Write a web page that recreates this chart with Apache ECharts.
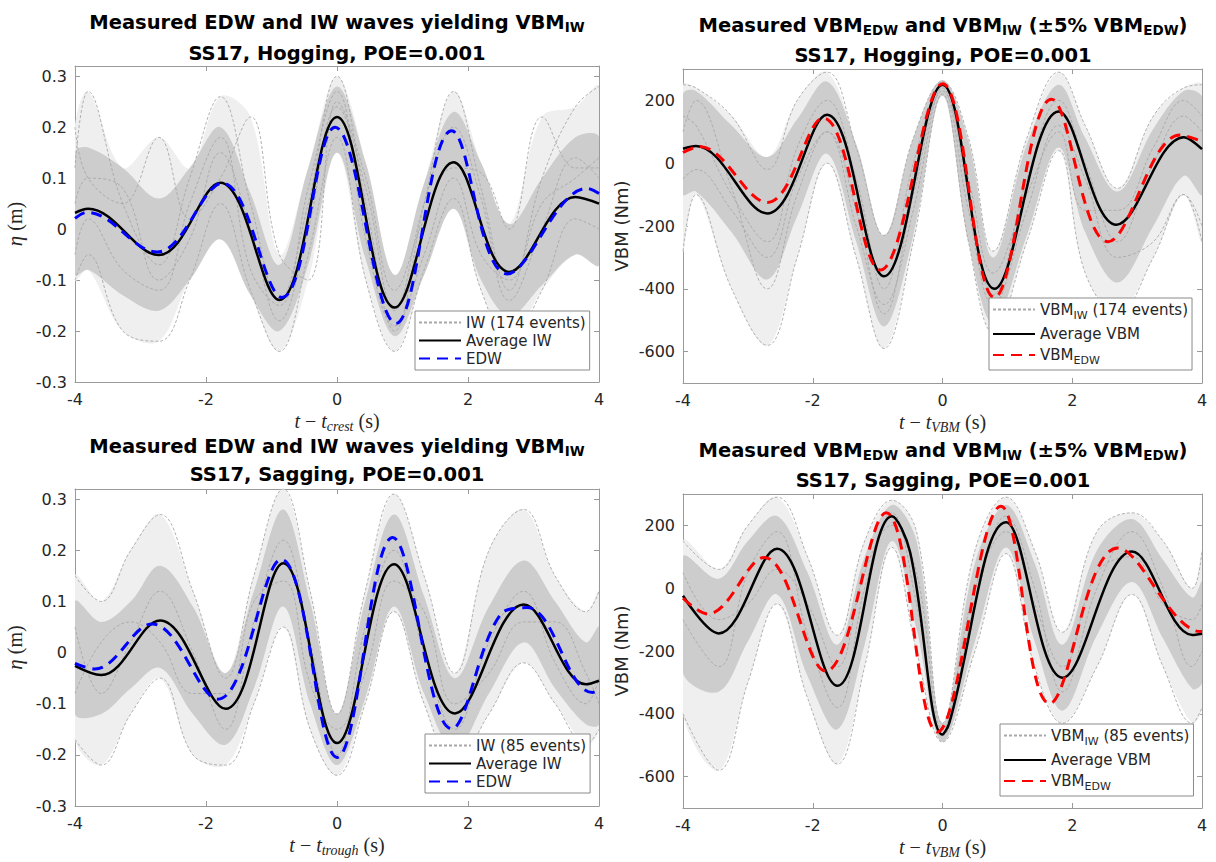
<!DOCTYPE html>
<html><head><meta charset="utf-8">
<script src="https://cdn.jsdelivr.net/npm/echarts@6/dist/echarts.min.js"></script>
<style>html,body{margin:0;padding:0;background:#fff}#c{width:1216px;height:862px}</style>
</head><body><div id="c"></div>
<script>
// ---------------- tick labels ----------------
const xTicks = [-4, -2, 0, 2, 4];
const etaTicks = [-0.3, -0.2, -0.1, 0, 0.1, 0.2, 0.3];
const vbmTicks = [-600, -400, -200, 0, 200];

// ---------------- Top-left: wave elevation, hogging ----------------
const tlAvgT = [-4, -3.8, -2.72, -1.78, -0.88, 0, 0.88, 1.78, 2.63, 3.64, 4];
const tlAvgV = [0.032, 0.04, -0.051, 0.091, -0.139, 0.22, -0.154, 0.131, -0.084, 0.063, 0.05];
const tlEdwT = [-4, -3.82, -2.75, -1.75, -0.84, -0.03, 0.9, 1.75, 2.6, 3.82, 4];
const tlEdwV = [0.021, 0.033, -0.045, 0.09, -0.134, 0.2, -0.185, 0.193, -0.088, 0.08, 0.07];
const tlBandT = [-4, -3.8, -3.27, -2.72, -2.25, -1.78, -1.32, -0.88, -0.44, 0, 0.44, 0.88, 1.33, 1.78, 2.2, 2.63, 3.13, 3.64, 4];
const tlBandLo = [-0.09, -0.08, -0.13, -0.16, -0.1, -0.02, -0.13, -0.2, -0.07, 0.15, -0.06, -0.21, -0.09, 0.04, -0.1, -0.17, -0.11, -0.05, -0.07];
const tlBandHi = [0.15, 0.16, 0.12, 0.06, 0.12, 0.2, 0.07, -0.07, 0.12, 0.28, 0.13, -0.09, 0.09, 0.23, 0.13, 0.01, 0.1, 0.18, 0.18];
const tlEv1 = [0.12, 0.27, 0.05, -0.07, 0.1, 0.26, 0.05, -0.14, 0.05, 0.3, 0.05, -0.2, 0.05, 0.27, 0.08, -0.12, 0.1, 0.24, 0.28];
const tlEv2 = [-0.1, -0.05, -0.2, -0.22, -0.1, 0.05, -0.12, -0.24, -0.05, 0.18, -0.1, -0.24, -0.08, 0.06, -0.12, -0.22, -0.12, 0.02, 0.0];
const tlEv3 = [0.2, 0.1, 0.05, 0.18, 0.02, 0.1, 0.22, -0.05, -0.1, 0.25, 0.1, -0.12, 0.02, 0.12, 0.11, 0.0, 0.22, 0.12, 0.12];
const tlEv4 = [0.05, 0.1, 0.08, -0.1, -0.02, 0.15, 0.0, -0.18, 0.0, 0.24, 0.08, -0.16, 0.05, 0.2, 0.06, -0.14, 0.0, 0.14, 0.1];
const tlEv5 = [-0.05, 0.02, -0.08, -0.12, 0.05, 0.18, -0.08, -0.15, 0.08, 0.27, -0.02, -0.19, -0.05, 0.1, -0.05, -0.1, 0.05, 0.1, 0.14];

// ---------------- Top-right: VBM, hogging ----------------
const trAvgT = [-4, -3.8, -2.7, -1.78, -0.9, 0, 0.8, 1.79, 2.68, 3.72, 4];
const trAvgV = [46, 55, -160, 154, -360, 250, -400, 165, -196, 83, 45];
const trEdwT = [-4, -3.75, -2.7, -1.84, -0.96, 0, 0.8, 1.68, 2.55, 3.66, 4];
const trEdwV = [34, 53, -125, 144, -340, 253, -428, 204, -250, 90, 69];
const trBandT = [-4, -3.8, -3.25, -2.7, -2.24, -1.78, -1.33, -0.9, -0.45, 0, 0.4, 0.78, 1.3, 1.79, 2.2, 2.7, 3.25, 3.72, 4];
const trBandLo = [-100, -90, -220, -370, -170, 30, -250, -520, -230, 215, -250, -510, -230, 50, -220, -380, -200, -40, -100];
const trBandHi = [220, 230, 120, 20, 140, 260, 60, -230, 80, 265, 70, -300, 60, 250, 80, -90, 110, 230, 210];
const trEv1 = [250, 240, 150, -20, 200, 290, 50, -230, 80, 260, 80, -280, 80, 290, 120, -80, 150, 240, 250];
const trEv2 = [-280, -100, -400, -580, -300, 0, -300, -590, -250, 220, -250, -540, -250, 40, -350, -480, -300, -100, -250];
const trEv3 = [100, 200, -80, -400, -100, 100, -200, -450, -150, 240, -150, -450, -150, 120, -50, -300, -250, -100, -200];
const trEv4 = [150, 120, -100, -250, 50, 200, -50, -400, 0, 245, -100, -420, -50, 200, 0, -250, 0, 150, 100];
const trEv5 = [-50, -20, -150, -300, -50, 100, -150, -480, -100, 230, -50, -350, -100, 100, -150, -150, 50, 200, 150];

// ---------------- Bottom-left: wave elevation, sagging ----------------
const blAvgT = [-4, -3.6, -2.7, -1.7, -0.82, 0, 0.87, 1.8, 2.85, 3.8, 4];
const blAvgV = [-0.026, -0.044, 0.063, -0.11, 0.175, -0.177, 0.173, -0.119, 0.094, -0.062, -0.055];
const blEdwT = [-4, -3.7, -2.82, -1.82, -0.85, 0, 0.85, 1.75, 2.5, 2.9, 3.9, 4];
const blEdwV = [-0.021, -0.032, 0.056, -0.091, 0.182, -0.205, 0.225, -0.149, 0.075, 0.088, -0.078, -0.073];
const blBandT = [-4, -3.6, -3.15, -2.7, -2.2, -1.7, -1.27, -0.82, -0.41, 0, 0.43, 0.87, 1.33, 1.8, 2.32, 2.85, 3.33, 3.8, 4];
const blBandLo = [-0.12, -0.12, -0.07, -0.03, -0.12, -0.18, -0.07, 0.09, -0.1, -0.22, -0.09, 0.09, -0.08, -0.19, -0.08, 0.02, -0.07, -0.14, -0.14];
const blBandHi = [0.1, 0.06, 0.1, 0.17, 0.09, -0.04, 0.12, 0.28, 0.1, -0.12, 0.1, 0.27, 0.11, -0.05, 0.09, 0.18, 0.1, 0.02, 0.05];
const blEv1 = [0.15, 0.1, 0.2, 0.27, 0.12, -0.05, 0.15, 0.32, 0.12, -0.12, 0.12, 0.31, 0.15, -0.04, 0.2, 0.28, 0.15, 0.08, 0.12];
const blEv2 = [-0.17, -0.22, -0.12, -0.05, -0.2, -0.22, -0.1, 0.05, -0.15, -0.24, -0.1, 0.08, -0.1, -0.22, -0.12, -0.02, -0.1, -0.18, -0.15];
const blEv3 = [0.05, -0.08, 0.02, 0.12, 0.0, -0.15, 0.06, 0.22, 0.02, -0.2, 0.05, 0.2, 0.0, -0.15, 0.02, 0.12, -0.02, -0.1, -0.05];
const blEv4 = [-0.08, 0.02, 0.06, 0.02, -0.08, -0.08, 0.1, 0.14, -0.06, -0.15, -0.04, 0.14, 0.08, -0.1, -0.04, 0.06, 0.06, -0.04, -0.1];

// ---------------- Bottom-right: VBM, sagging ----------------
const brAvgT = [-4, -3.45, -2.55, -1.62, -0.78, -0.5, 0, 0.1, 0.98, 1.85, 2.92, 3.85, 4];
const brAvgV = [-24, -144, 126, -311, 229, 115, -466, -432, 210, -285, 117, -149, -145];
const brEdwT = [-4, -3.62, -2.75, -1.8, -0.87, -0.08, 0.9, 1.65, 2.7, 3.9, 4];
const brEdwV = [-32, -82, 98, -264, 240, -458, 261, -367, 128, -136, -138];
const brBandT = [-4, -3.45, -3.0, -2.55, -2.08, -1.62, -1.2, -0.78, -0.4, 0, 0.5, 0.98, 1.42, 1.85, 2.38, 2.92, 3.4, 3.85, 4];
const brBandLo = [-270, -330, -170, -20, -280, -450, -180, 150, -130, -490, -170, 130, -170, -390, -150, 20, -160, -320, -300];
const brBandHi = [100, 30, 150, 230, 50, -180, 100, 265, 150, -430, 80, 265, 80, -180, 120, 220, 90, -30, 20];
const brEv1 = [150, 60, 200, 290, 100, -150, 150, 280, 180, -430, 120, 290, 120, -140, 180, 240, 150, 0, 120];
const brEv2 = [-400, -580, -300, -50, -350, -560, -250, 130, -200, -490, -200, 110, -250, -430, -250, -20, -250, -430, -380];
const brEv3 = [-100, -250, 50, 180, -150, -380, 0, 240, -50, -470, -50, 230, 0, -330, 0, 180, 0, -250, -200];
const brEv4 = [50, -100, -50, 60, -50, -250, 50, 200, 50, -450, 0, 180, -50, -250, 50, 100, -50, -100, -50];

// ---------------- styling / layout ----------------
const FONT = 'DejaVu Sans';
const SERIF = 'Liberation Serif';
const BOX = '#9a9a9a';
const TXT = '#262626';

function pairs(t, v) { return t.map((x, i) => [x, v[i]]); }

const panels = [
  { grid: { left: 75, top: 66, width: 524, height: 316 }, yMin: -0.3, yMax: 0.32, yTicks: etaTicks,
    yName: '{i|η} (m)', yGap: 50, xName: '{i|t} − {i|t}{s|crest} (s)',
    avg: pairs(tlAvgT, tlAvgV), edw: pairs(tlEdwT, tlEdwV), bandT: tlBandT, lo: tlBandLo, hi: tlBandHi,
    ev: [tlEv1, tlEv2, tlEv3, tlEv4, tlEv5], gName: 'IW (174 events)', aName: 'Average IW', eName: 'EDW', eColor: '#0000ff',
    legend: { left: 415, top: 311 }, lGap: 3,
    t1: '{b|Measured EDW and IW waves yielding VBM}{s|IW}', t2: 'SS17, Hogging, POE=0.001', cx: 337, t1Top: 10, t2Top: 41 },
  { grid: { left: 683, top: 69, width: 519, height: 314 }, yMin: -700, yMax: 300, yTicks: vbmTicks,
    yName: 'VBM (Nm)', yGap: 53, xName: '{i|t} − {i|t}{s|VBM} (s)',
    avg: pairs(trAvgT, trAvgV), edw: pairs(trEdwT, trEdwV), bandT: trBandT, lo: trBandLo, hi: trBandHi,
    ev: [trEv1, trEv2, trEv3, trEv4, trEv5], gName: 'VBMIW (174 events)', aName: 'Average VBM', eName: 'VBMEDW', eColor: '#ff0000',
    legend: { left: 989, top: 298 }, lGap: 6,
    t1: '{b|Measured VBM}{s|EDW}{b| and VBM}{s|IW}{b| (±5% VBM}{s|EDW}{b|)}', t2: 'SS17, Hogging, POE=0.001', cx: 943, t1Top: 13, t2Top: 43 },
  { grid: { left: 75, top: 489, width: 524, height: 317 }, yMin: -0.3, yMax: 0.32, yTicks: etaTicks,
    yName: '{i|η} (m)', yGap: 50, xName: '{i|t} − {i|t}{s|trough} (s)',
    avg: pairs(blAvgT, blAvgV), edw: pairs(blEdwT, blEdwV), bandT: blBandT, lo: blBandLo, hi: blBandHi,
    ev: [blEv1, blEv2, blEv3, blEv4], gName: 'IW (85 events)', aName: 'Average IW', eName: 'EDW', eColor: '#0000ff',
    legend: { left: 425, top: 734 }, lGap: 3,
    t1: '{b|Measured EDW and IW waves yielding VBM}{s|IW}', t2: 'SS17, Sagging, POE=0.001', cx: 337, t1Top: 434, t2Top: 462 },
  { grid: { left: 683, top: 494, width: 519, height: 314 }, yMin: -700, yMax: 300, yTicks: vbmTicks,
    yName: 'VBM (Nm)', yGap: 53, xName: '{i|t} − {i|t}{s|VBM} (s)',
    avg: pairs(brAvgT, brAvgV), edw: pairs(brEdwT, brEdwV), bandT: brBandT, lo: brBandLo, hi: brBandHi,
    ev: [brEv1, brEv2, brEv3, brEv4], gName: 'VBMIW (85 events)', aName: 'Average VBM', eName: 'VBMEDW', eColor: '#ff0000',
    legend: { left: 1000, top: 724 }, lGap: 6,
    t1: '{b|Measured VBM}{s|EDW}{b| and VBM}{s|IW}{b| (±5% VBM}{s|EDW}{b|)}', t2: 'SS17, Sagging, POE=0.001', cx: 943, t1Top: 438, t2Top: 468 }
];

const legendFmt = {
  'VBMIW (174 events)': '{a|VBM}{s|IW}{a| (174 events)}',
  'VBMIW (85 events)': '{a|VBM}{s|IW}{a| (85 events)}',
  'VBMEDW': '{a|VBM}{s|EDW}'
};

const option = {
  animation: false,
  backgroundColor: '#fff',
  textStyle: { fontFamily: FONT },
  grid: [], xAxis: [], yAxis: [], series: [], legend: [], title: []
};

const titleRich = {
  b: { fontFamily: FONT, fontSize: 19.5, fontWeight: 'bold', color: '#000', lineHeight: 24 },
  s: { fontFamily: FONT, fontSize: 13.5, fontWeight: 'bold', color: '#000', lineHeight: 24, verticalAlign: 'bottom' }
};
const serifRich = {
  i: { fontFamily: SERIF, fontStyle: 'italic', fontSize: 20, color: TXT, lineHeight: 24 },
  s: { fontFamily: SERIF, fontStyle: 'italic', fontSize: 14, color: TXT, lineHeight: 24, verticalAlign: 'bottom' }
};

panels.forEach((p, g) => {
  option.grid.push(Object.assign({ show: false }, p.grid));
  const tickStyle = { show: true, inside: true, length: 5, lineStyle: { color: BOX, width: 1 } };
  const lineStyle = { show: true, onZero: false, lineStyle: { color: BOX, width: 1 } };
  option.xAxis.push({
    type: 'value', gridIndex: g, min: -4, max: 4, position: 'bottom',
    axisLine: lineStyle, splitLine: { show: false },
    axisTick: Object.assign({ customValues: xTicks }, tickStyle),
    axisLabel: { customValues: xTicks, fontSize: 16, color: TXT, margin: 9, fontFamily: FONT },
    name: p.xName, nameLocation: 'middle', nameGap: 27,
    nameTextStyle: { fontFamily: SERIF, fontSize: 20, color: TXT, lineHeight: 24, rich: serifRich }
  });
  option.xAxis.push({
    type: 'value', gridIndex: g, min: -4, max: 4, position: 'top',
    axisLine: lineStyle, splitLine: { show: false },
    axisTick: Object.assign({ customValues: xTicks }, tickStyle),
    axisLabel: { show: false }
  });
  const isEta = p.yMax < 1;
  option.yAxis.push({
    type: 'value', gridIndex: g, min: p.yMin, max: p.yMax, position: 'left',
    axisLine: lineStyle, splitLine: { show: false },
    axisTick: Object.assign({ customValues: p.yTicks }, tickStyle),
    axisLabel: { customValues: p.yTicks, fontSize: 16, color: TXT, margin: 8, fontFamily: FONT },
    name: p.yName, nameLocation: 'middle', nameGap: p.yGap,
    nameTextStyle: isEta
      ? { fontFamily: SERIF, fontSize: 20, color: TXT, rich: { i: { fontFamily: SERIF, fontStyle: 'italic', fontSize: 21, color: TXT } } }
      : { fontFamily: FONT, fontSize: 18, color: TXT }
  });
  option.yAxis.push({
    type: 'value', gridIndex: g, min: p.yMin, max: p.yMax, position: 'right',
    axisLine: lineStyle, splitLine: { show: false },
    axisTick: Object.assign({ customValues: p.yTicks }, tickStyle),
    axisLabel: { show: false }
  });
  const xi = 2 * g, yi = 2 * g;
  // sparse outer region spanned by the individual events, then the dense core of the bundle
  const outerHi = p.bandT.map((t, i) => Math.max.apply(null, p.ev.map(e => e[i]).concat([p.hi[i]])));
  const outerLo = p.bandT.map((t, i) => Math.min.apply(null, p.ev.map(e => e[i]).concat([p.lo[i]])));
  const bands = [[outerLo, outerHi, '#efefef'], [p.lo, p.hi, '#cdcdcd']];
  bands.forEach((b, k) => {
    option.series.push({
      type: 'custom', name: 'band' + g + '_' + k, xAxisIndex: xi, yAxisIndex: yi, silent: true, clip: true, z: 1,
      data: [[0, 0]],
      renderItem: (params, api) => {
        const pts = [];
        for (let i = 0; i < p.bandT.length; i++) pts.push(api.coord([p.bandT[i], b[1][i]]));
        for (let i = p.bandT.length - 1; i >= 0; i--) pts.push(api.coord([p.bandT[i], b[0][i]]));
        return { type: 'polygon', shape: { points: pts, smooth: 0.35 }, style: { fill: b[2], stroke: null } };
      }
    });
  });
  p.ev.forEach(ev => {
    option.series.push({
      type: 'line', name: p.gName, xAxisIndex: xi, yAxisIndex: yi, data: pairs(p.bandT, ev),
      smooth: 0.4, symbol: 'none', silent: true, z: 2,
      itemStyle: { color: '#a8a8a8', opacity: 0 },
      lineStyle: { color: '#a8a8a8', width: 0.9, type: [3, 2] }
    });
  });
  option.series.push({
    type: 'line', name: p.aName, xAxisIndex: xi, yAxisIndex: yi, data: p.avg,
    smooth: 0.38, symbol: 'none', silent: true, z: 3,
    itemStyle: { color: '#000', opacity: 0 },
    lineStyle: { color: '#000', width: 2.5 }
  });
  option.series.push({
    type: 'line', name: p.eName, xAxisIndex: xi, yAxisIndex: yi, data: p.edw,
    smooth: 0.38, symbol: 'none', silent: true, z: 4,
    itemStyle: { color: p.eColor, opacity: 0 },
    lineStyle: { color: p.eColor, width: 3, type: [11, 7] }
  });
  option.legend.push({
    orient: 'vertical', left: p.legend.left, top: p.legend.top,
    data: [p.gName, p.aName, p.eName], selectedMode: false,
    itemWidth: 42, itemHeight: 14, itemGap: p.lGap, padding: [4, 4, 4, 3],
    itemStyle: { opacity: 0 },
    backgroundColor: '#fff', borderColor: '#8a8a8a', borderWidth: 1, borderRadius: 0, z: 10,
    formatter: n => legendFmt[n] || n,
    textStyle: {
      fontFamily: FONT, fontSize: 15, color: TXT,
      rich: {
        a: { fontFamily: FONT, fontSize: 15, color: TXT, lineHeight: 22 },
        s: { fontFamily: FONT, fontSize: 11, color: TXT, lineHeight: 22, verticalAlign: 'bottom' }
      }
    }
  });
  option.title.push({
    text: p.t1, left: p.cx, top: p.t1Top, textAlign: 'center', padding: 0,
    textStyle: { fontFamily: FONT, fontSize: 19.5, fontWeight: 'bold', color: '#000', rich: titleRich }
  });
  option.title.push({
    text: p.t2, left: p.cx, top: p.t2Top, textAlign: 'center', padding: 0,
    textStyle: { fontFamily: FONT, fontSize: 19.5, fontWeight: 'bold', color: '#000', lineHeight: 24 }
  });
});

const chart = echarts.init(document.getElementById('c'), null, { renderer: 'svg', width: 1216, height: 862 });
chart.setOption(option);
</script></body></html>
